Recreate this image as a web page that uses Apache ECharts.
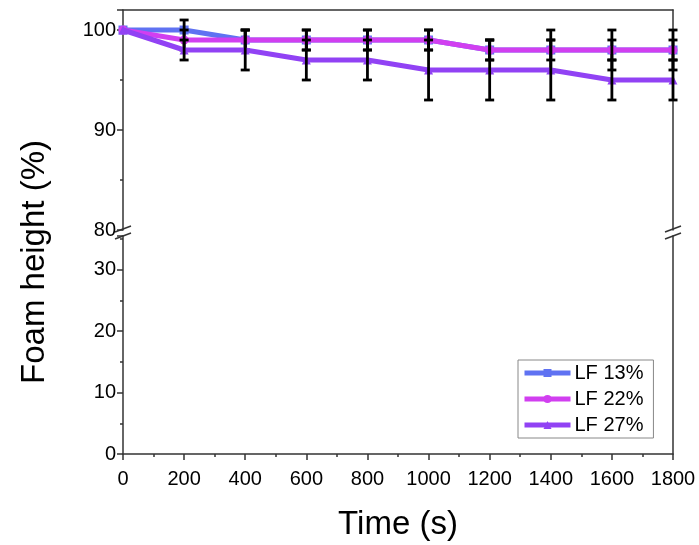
<!DOCTYPE html>
<html><head><meta charset="utf-8">
<script src="https://cdn.jsdelivr.net/npm/echarts@6/dist/echarts.min.js"></script>
<style>html,body{margin:0;padding:0;background:#fff}#chart{width:699px;height:545px}</style>
</head><body><div id="chart"></div>
<script>
// Foam height over time for three liquid fractions (mean ± error)
const times = [0, 200, 400, 600, 800, 1000, 1200, 1400, 1600, 1800];
const lf13 = [100, 100, 99, 99, 99, 99, 98, 98, 98, 98];
const lf13Err = [0, 1, 1, 1, 1, 1, 1, 1, 1, 1];
const lf22 = [100, 99, 99, 99, 99, 99, 98, 98, 98, 98];
const lf22Err = [0, 1, 1, 1, 1, 1, 1, 2, 2, 2];
const lf27 = [100, 98, 98, 97, 97, 96, 96, 96, 95, 95];
const lf27Err = [0, 1, 2, 2, 2, 3, 3, 3, 2, 2];
const seriesNames = ['LF 13%', 'LF 22%', 'LF 27%'];
const seriesColors = ['#5f72f2', '#d13ff0', '#9142f4'];
const seriesSymbols = ['rect', 'circle', 'triangle'];
const upperRange = [80, 102];
const lowerRange = [0, 35.5];

const FONT = '"Liberation Sans", Arial, Helvetica, sans-serif';
const chart = echarts.init(document.getElementById('chart'), null, {renderer: 'canvas'});

const L = 123, R = 26;
const upperGrid = {left: L, right: R, top: 10, height: 220};
const lowerGrid = {left: L, right: R, top: 236, height: 218};

const lineStyleAxis = {show: true, lineStyle: {color: '#333', width: 1.5}};

function errorSeries(vals, errs, z) {
  return {
    type: 'custom', xAxisIndex: 0, yAxisIndex: 0, z: z, silent: true,
    encode: {x: 0, y: [1, 2]},
    data: times.map((t, i) => [t, vals[i] - errs[i], vals[i] + errs[i]]),
    renderItem(params, api) {
      const lo = api.coord([api.value(0), api.value(1)]);
      const hi = api.coord([api.value(0), api.value(2)]);
      if (Math.abs(hi[1] - lo[1]) < 0.5) return null;
      const w = 4.5;
      const style = {stroke: '#000', lineWidth: 2.8, fill: null};
      return {type: 'group', children: [
        {type: 'line', shape: {x1: lo[0], y1: lo[1], x2: hi[0], y2: hi[1]}, style},
        {type: 'line', shape: {x1: lo[0] - w, y1: lo[1], x2: lo[0] + w, y2: lo[1]}, style},
        {type: 'line', shape: {x1: hi[0] - w, y1: hi[1], x2: hi[0] + w, y2: hi[1]}, style}
      ]};
    }
  };
}

function lineSeries(idx, vals) {
  return {
    name: seriesNames[idx], type: 'line', xAxisIndex: 0, yAxisIndex: 0,
    data: times.map((t, i) => [t, vals[i]]),
    symbol: seriesSymbols[idx], symbolSize: 9, showSymbol: true,
    lineStyle: {color: seriesColors[idx], width: 5},
    itemStyle: {color: seriesColors[idx]},
    z: 2 + idx * 2, animation: false
  };
}

const axisLabelStyle = {color: '#000', fontSize: 20, fontFamily: FONT, formatter: v => String(v)};

chart.setOption({
  animation: false,
  backgroundColor: '#fff',
  grid: [upperGrid, lowerGrid],
  legend: {
    data: seriesNames,
    orient: 'vertical', left: 518, top: 360,
    itemWidth: 46, itemHeight: 10, itemGap: 6,
    padding: [3, 10, 3, 4],
    borderColor: '#888', borderWidth: 1,
    lineStyle: {width: 5},
    textStyle: {color: '#000', fontSize: 20, lineHeight: 20, fontFamily: FONT, padding: [0, 0, 0, -1]}
  },
  xAxis: [
    {gridIndex: 0, type: 'value', min: 0, max: 1800, interval: 200, position: 'top',
      axisLine: lineStyleAxis, axisTick: {show: false}, axisLabel: {show: false},
      splitLine: {show: false}},
    {gridIndex: 1, type: 'value', min: 0, max: 1800, interval: 200, position: 'bottom',
      axisLine: lineStyleAxis,
      axisTick: {show: true, length: 6, inside: false, lineStyle: {color: '#333', width: 1.5}},
      minorTick: {show: true, splitNumber: 2, length: 3, lineStyle: {color: '#333', width: 1.5}},
      axisLabel: Object.assign({margin: 15}, axisLabelStyle),
      splitLine: {show: false},
      name: 'Time (s)', nameLocation: 'middle', nameGap: 54,
      nameTextStyle: {color: '#000', fontSize: 33, fontFamily: FONT}}
  ],
  yAxis: [
    {gridIndex: 0, type: 'value', min: upperRange[0], max: upperRange[1], interval: 10, position: 'left',
      axisLine: lineStyleAxis,
      axisTick: {show: true, length: 6, lineStyle: {color: '#333', width: 1.5}},
      minorTick: {show: true, splitNumber: 2, length: 3, lineStyle: {color: '#333', width: 1.5}},
      axisLabel: Object.assign({margin: 7, showMaxLabel: false}, axisLabelStyle),
      splitLine: {show: false}},
    {gridIndex: 0, type: 'value', min: upperRange[0], max: upperRange[1], position: 'right',
      axisLine: lineStyleAxis, axisTick: {show: false}, axisLabel: {show: false}, splitLine: {show: false}},
    {gridIndex: 1, type: 'value', min: lowerRange[0], max: lowerRange[1], interval: 10, position: 'left',
      axisLine: lineStyleAxis,
      axisTick: {show: true, length: 6, lineStyle: {color: '#333', width: 1.5}},
      minorTick: {show: true, splitNumber: 2, length: 3, lineStyle: {color: '#333', width: 1.5}},
      axisLabel: Object.assign({margin: 7, showMaxLabel: false}, axisLabelStyle),
      splitLine: {show: false}},
    {gridIndex: 1, type: 'value', min: lowerRange[0], max: lowerRange[1], position: 'right',
      axisLine: lineStyleAxis, axisTick: {show: false}, axisLabel: {show: false}, splitLine: {show: false}}
  ],
  series: [
    lineSeries(0, lf13), errorSeries(lf13, lf13Err, 3),
    lineSeries(1, lf22), errorSeries(lf22, lf22Err, 5),
    lineSeries(2, lf27), errorSeries(lf27, lf27Err, 7)
  ]
});

// axis-break marks and y-axis title
const yBreakTop = chart.convertToPixel({yAxisIndex: 0}, upperRange[0]);
const yBreakBot = chart.convertToPixel({yAxisIndex: 2}, lowerRange[1]);
const xLeft = chart.convertToPixel({xAxisIndex: 1}, 0);
const xRight = chart.convertToPixel({xAxisIndex: 1}, 1800);
const mid = (yBreakTop + yBreakBot) / 2;
function breakMarks(x) {
  const s = {stroke: '#333', lineWidth: 1.5};
  return [
    {type: 'line', shape: {x1: x, y1: yBreakTop, x2: x, y2: yBreakBot}, style: {stroke: '#333', lineWidth: 1.5}},
    {type: 'rect', shape: {x: x - 3, y: mid - 3, width: 6, height: 6}, style: {fill: '#fff'}},
    {type: 'line', shape: {x1: x - 8, y1: mid - 1, x2: x + 8, y2: mid - 7}, style: s},
    {type: 'line', shape: {x1: x - 8, y1: mid + 6, x2: x + 8, y2: mid}, style: s}
  ];
}
chart.setOption({
  graphic: [].concat(breakMarks(xLeft), breakMarks(xRight), [
    {type: 'text', x: 35, y: 262, rotation: Math.PI / 2,
      style: {text: 'Foam height (%)', fill: '#000', fontSize: 33, fontFamily: FONT,
        align: 'center', verticalAlign: 'middle'}}
  ])
});
</script></body></html>
